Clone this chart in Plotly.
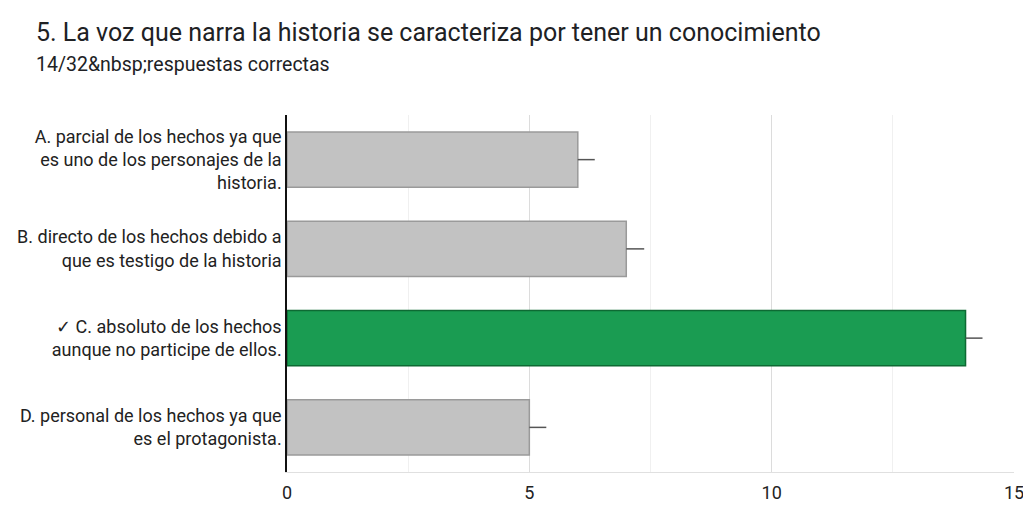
import plotly.graph_objects as go

# answer options, top to bottom
categories = [
    "A. parcial de los hechos ya que<br>es uno de los personajes de la<br>historia.",
    "B. directo de los hechos debido a<br>que es testigo de la historia",
    "✓ C. absoluto de los hechos<br>aunque no participe de ellos.",
    "D. personal de los hechos ya que<br>es el protagonista.",
]
counts = [6, 7, 14, 5]
whisker = [0.35, 0.37, 0.35, 0.35]
tick_vals = [0, 5, 10, 15]

title = "5. La voz que narra la historia se caracteriza por tener un conocimiento"
subtitle = "14/32&amp;nbsp;respuestas correctas"

gray, gray_edge = "#c2c2c2", "#9a9a9a"
green, green_edge = "#1a9c52", "#0d6a33"
colors = [green if c.startswith("✓") else gray for c in categories]
edges = [green_edge if c.startswith("✓") else gray_edge for c in categories]

fig = go.Figure()
fig.add_trace(go.Bar(
    x=counts, y=categories, orientation="h",
    marker=dict(color=colors, line=dict(color=edges, width=1.5)),
    width=0.62,
    error_x=dict(type="data", symmetric=False, array=whisker,
                 arrayminus=[0] * len(counts), color="#555555",
                 thickness=1.5, width=0),
    hoverinfo="x+y",
))

W, H = 1023, 506
ml, mr, mt, mb = 287, 9, 115, 34
pw, ph = W - ml - mr, H - mt - mb
tx = 34

fig.update_layout(
    width=W, height=H,
    margin=dict(l=ml, r=mr, t=mt, b=mb),
    paper_bgcolor="white", plot_bgcolor="white",
    font=dict(family="Roboto, Arial, sans-serif", color="#222222"),
    showlegend=False,
    xaxis=dict(range=[0, 15], tickvals=tick_vals, showgrid=True,
               gridcolor="#dcdcdc", gridwidth=1, zeroline=False,
               minor=dict(dtick=2.5, showgrid=True, gridcolor="#f0f0f0"),
               tickfont=dict(size=18, color="#222222"), ticks="",
               showline=True, linecolor="#e0e0e0", automargin=False,
               ticklabelstandoff=4, ticklabeloverflow="allow",
               fixedrange=True),
    yaxis=dict(autorange="reversed", showline=True, linecolor="#111111",
               linewidth=1.5, ticks="", showgrid=False, zeroline=False,
               tickfont=dict(size=18, color="#222222"), ticklabelstandoff=0,
               automargin=False, fixedrange=True),
    annotations=[
        dict(text=title, xref="paper", yref="paper",
             x=(tx - ml) / pw, y=(H - mb - 33) / ph, xanchor="left",
             yanchor="middle", showarrow=False,
             font=dict(size=25, color="#202124")),
        dict(text=subtitle, xref="paper", yref="paper",
             x=(tx - ml) / pw, y=(H - mb - 64) / ph, xanchor="left",
             yanchor="middle", showarrow=False,
             font=dict(size=19.5, color="#202124")),
    ],
)

# drop the default body margin so the figure fills the window exactly
fig.write_html("out.html", config={"displayModeBar": False},
               post_script="document.body.style.margin='0';")
